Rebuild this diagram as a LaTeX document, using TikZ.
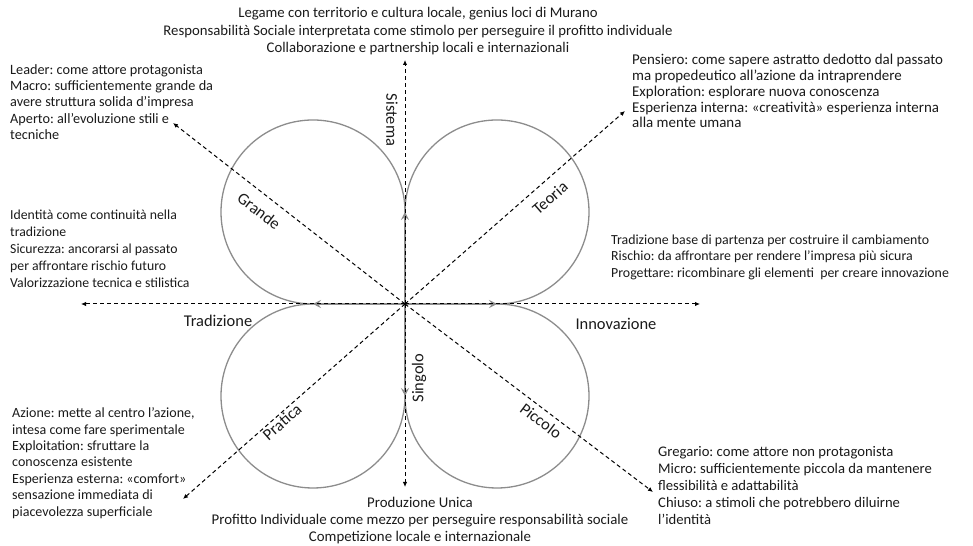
\documentclass[tikz,border=0pt]{standalone}
\usepackage{fontspec}
\setmainfont{Carlito}
\frenchspacing
\usetikzlibrary{arrows.meta}
\definecolor{ink}{HTML}{1A1A1A}
\definecolor{loopgray}{HTML}{8C8C8C}
\begin{document}
\begin{tikzpicture}[x=1bp,y=1bp,
  petal/.style={draw=loopgray, line width=1.3bp},
  petalarrow/.style={petal, -{Stealth[length=8bp,width=8bp,inset=3bp]}},
  axisarrow/.style={draw=black, line width=1bp, dash pattern=on 4bp off 3bp, -{Latex[length=5bp,width=4.5bp]}},
  body/.style n args={2}{font=\fontsize{#1}{#2}\selectfont, text=ink, inner sep=0pt, align=left, anchor=north west},
  headline/.style n args={2}{body={#1}{#2}, align=center, anchor=north},
  tag/.style={font=\fontsize{16.5}{19}\selectfont, text=ink, inner sep=0pt}
]
\useasboundingbox (0,0) rectangle (973,546);

% centre and tangent points of the four loops
\coordinate (C)  at (405,242);
\coordinate (T1) at (405,334);
\coordinate (L1) at (313,242);
\coordinate (B1) at (405,150);
\coordinate (R1) at (497,242);

% ends of the dashed axes
\coordinate (N)  at (405,486);
\coordinate (S)  at (405,59);
\coordinate (W)  at (81,242);
\coordinate (E)  at (700,242);
\coordinate (NW) at (173,423);
\coordinate (SE) at (653,54);
\coordinate (NE) at (625,435);
\coordinate (SW) at (183,47);

% grey loops: out along an axis, round the circle, back to the centre
\draw[petalarrow] (C) -- (T1);
\draw[petal] (T1) arc[start angle=0, end angle=270, radius=92] -- (C);
\draw[petalarrow] (C) -- (L1);
\draw[petal] (L1) arc[start angle=90, end angle=360, radius=92] -- (C);
\draw[petalarrow] (C) -- (B1);
\draw[petal] (B1) arc[start angle=180, end angle=450, radius=92] -- (C);
\draw[petalarrow] (C) -- (R1);
\draw[petal] (R1) arc[start angle=270, end angle=540, radius=92] -- (C);

% dashed axes
\foreach \p in {N,S,W,E,NW,SE,NE,SW}
  \draw[axisarrow] (C) -- (\p);

% axis and loop labels
\node[tag, rotate=-90] (sistema) at (392,426) {Sistema};
\node[tag, rotate=90]  (singolo) at (419,168) {Singolo};
\node[tag] (trad)  at (218,225) {Tradizione};
\node[tag] (innov) at (616,222) {Innovazione};
\node[tag, rotate=-37] (grande)  at (259,335) {Grande};
\node[tag, rotate=41]  (teoria)  at (550,348) {Teoria};
\node[tag, rotate=41]  (pratica) at (282,124) {Pratica};
\node[tag, rotate=-37] (piccolo) at (541,125) {Piccolo};

% descriptions
\node[headline={14.8}{17.5}] (top) at (418,538.7) {Legame con territorio e cultura locale, genius loci di Murano\\
Responsabilità Sociale interpretata come stimolo per perseguire il profitto individuale\\
Collaborazione e partnership locali e internazionali};

\node[body={14.3}{16.3}] (tl) at (10,481.7) {Leader: come attore protagonista\\
Macro: sufficientemente grande da\\
avere struttura solida d’impresa\\
Aperto: all’evoluzione stili e\\
tecniche};

\node[body={15}{15.8}] (tr) at (632,491.7) {Pensiero: come sapere astratto dedotto dal passato\\
ma propedeutico all’azione da intraprendere\\
Exploration: esplorare nuova conoscenza\\
Esperienza interna: «creatività» esperienza interna\\
alla mente umana};

\node[body={13.8}{17.2}] (ml) at (10,336.5) {Identità come continuità nella\\
tradizione\\
Sicurezza: ancorarsi al passato\\
per affrontare rischio futuro\\
Valorizzazione tecnica e stilistica};

\node[body={13.9}{16.5}] (mr) at (611,311.5) {Tradizione base di partenza per costruire il cambiamento\\
Rischio: da affrontare per rendere l’impresa più sicura\\
Progettare: ricombinare gli elementi\ \ per creare innovazione};

\node[body={14.1}{16.5}] (bl) at (12,138.5) {Azione: mette al centro l’azione,\\
intesa come fare sperimentale\\
Exploitation: sfruttare la\\
conoscenza esistente\\
Esperienza esterna: «comfort»\\
sensazione immediata di\\
piacevolezza superficiale};

\node[body={14.7}{17}] (br) at (658,99.8) {Gregario: come attore non protagonista\\
Micro: sufficientemente piccola da mantenere\\
flessibilità e adattabilità\\
Chiuso: a stimoli che potrebbero diluirne\\
l’identità};

\node[headline={14.9}{17}] (bottom) at (420,48.8) {Produzione Unica\\
Profitto Individuale come mezzo per perseguire responsabilità sociale\\
Competizione locale e internazionale};
\end{tikzpicture}
\end{document}
